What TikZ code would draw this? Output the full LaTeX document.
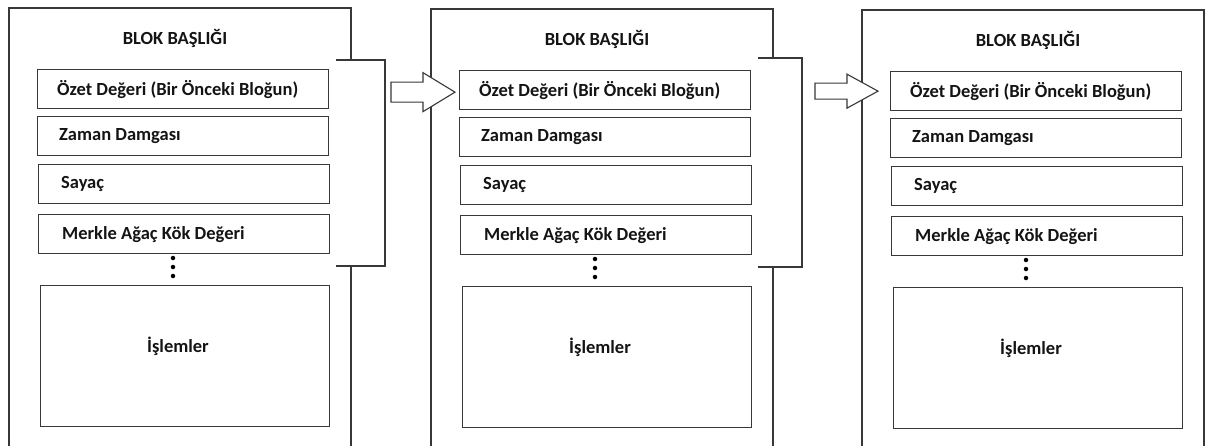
\documentclass[tikz,border=0pt]{standalone}
\usepackage{fontspec}
\setmainfont{Carlito}
\usetikzlibrary{calc}

\tikzset{
  frame/.style={draw=black!78, line width=1.3pt},
  field/.style={draw=black!78, line width=1.3pt, rectangle, inner sep=0pt, anchor=north west},
  lbl/.style={font=\bfseries\fontsize{18.5}{20}\selectfont, text=black!92, inner sep=0pt, anchor=west},
  dot/.style={circle, fill=black, inner sep=0pt, minimum size=4.5pt},
  blockarrow/.style={draw=black!78, line width=1.1pt, fill=white, line join=miter},
}

% One block of the chain: #1 = name prefix, (#2,#3) = its top left corner
\newcommand{\chainblk}[3]{%
\begin{scope}[shift={(#2,#3)}]
  \coordinate (#1nw) at (0,0);
  \coordinate (#1ne) at (342,0);
  \coordinate (#1sw) at (0,445);
  \coordinate (#1se) at (342,445);
  \node[lbl, anchor=center] (#1title) at (166,30) {BLOK BAŞLIĞI};
  \node[field, minimum width=291pt, minimum height=39pt] (#1hash) at (28,61) {};
  \node[lbl] (#1hashT) at ($(#1hash.west)+(20,0)$) {Özet Değeri (Bir Önceki Bloğun)};
  \node[field, minimum width=291pt, minimum height=39pt] (#1time) at (28,108) {};
  \node[lbl] (#1timeT) at ($(#1time.west)+(22,0)$) {Zaman Damgası};
  \node[field, minimum width=291pt, minimum height=39pt] (#1nonce) at (29,156) {};
  \node[lbl] (#1nonceT) at ($(#1nonce.west)+(23,0)$) {Sayaç};
  \node[field, minimum width=291pt, minimum height=39pt] (#1root) at (29,206) {};
  \node[lbl] (#1rootT) at ($(#1root.west)+(24,0)$) {Merkle Ağaç Kök Değeri};
  \node[dot] (#1d1) at (164,250) {};
  \node[dot] (#1d2) at (164,259) {};
  \node[dot] (#1d3) at (164,268) {};
  \node[field, minimum width=289pt, minimum height=141pt] (#1tx) at (31,277) {};
  \node[lbl, anchor=center] (#1txT) at (169,338) {İşlemler};
\end{scope}}

\begin{document}
\begin{tikzpicture}[x=1pt, y=-1pt]
  \useasboundingbox (0,0) rectangle (1208,445);

  \chainblk{A}{9}{8}
  \chainblk{B}{431}{9}
  \chainblk{C}{862}{10}

  % outer frames, open at the bottom; the first two make room for the header bracket
  \draw[frame] (Asw) -- (Anw) -- (Ane) -- ++(0,52);
  \draw[frame] ($(Ane)+(0,258)$) -- (Ase);
  \draw[frame] (Bsw) -- (Bnw) -- (Bne) -- ++(0,49);
  \draw[frame] ($(Bne)+(0,258)$) -- (Bse);
  \draw[frame] (Csw) -- (Cnw) -- (Cne) -- (Cse);

  % brackets round the block headers
  \coordinate (Abr1) at (336,60);
  \coordinate (Abr2) at (385,266);
  \draw[frame] (Abr1) -- (Abr1 -| Abr2) -- (Abr2) -- (Abr2 -| Abr1);
  \coordinate (Bbr1) at (758,58);
  \coordinate (Bbr2) at (802,267);
  \draw[frame] (Bbr1) -- (Bbr1 -| Bbr2) -- (Bbr2) -- (Bbr2 -| Bbr1);

  % block arrows from each header to the hash field of the next block
  \coordinate (ar1) at ([xshift=-4pt]Bhash.west);
  \coordinate (ar1tip) at ($(ar1)+(0,2)$);
  \draw[blockarrow] (ar1tip) -- ++(-32,-19.5) -- ++(0,9.5) -- ++(-32,0) -- ++(0,20)
    -- ++(32,0) -- ++(0,9.5) -- cycle;
  \coordinate (ar2) at ([xshift=-12pt]Chash.west);
  \coordinate (ar2tip) at ($(ar2)+(0,0)$);
  \draw[blockarrow] (ar2tip) -- ++(-31,-17) -- ++(0,9) -- ++(-32,0) -- ++(0,16)
    -- ++(32,0) -- ++(0,9) -- cycle;
\end{tikzpicture}
\end{document}
